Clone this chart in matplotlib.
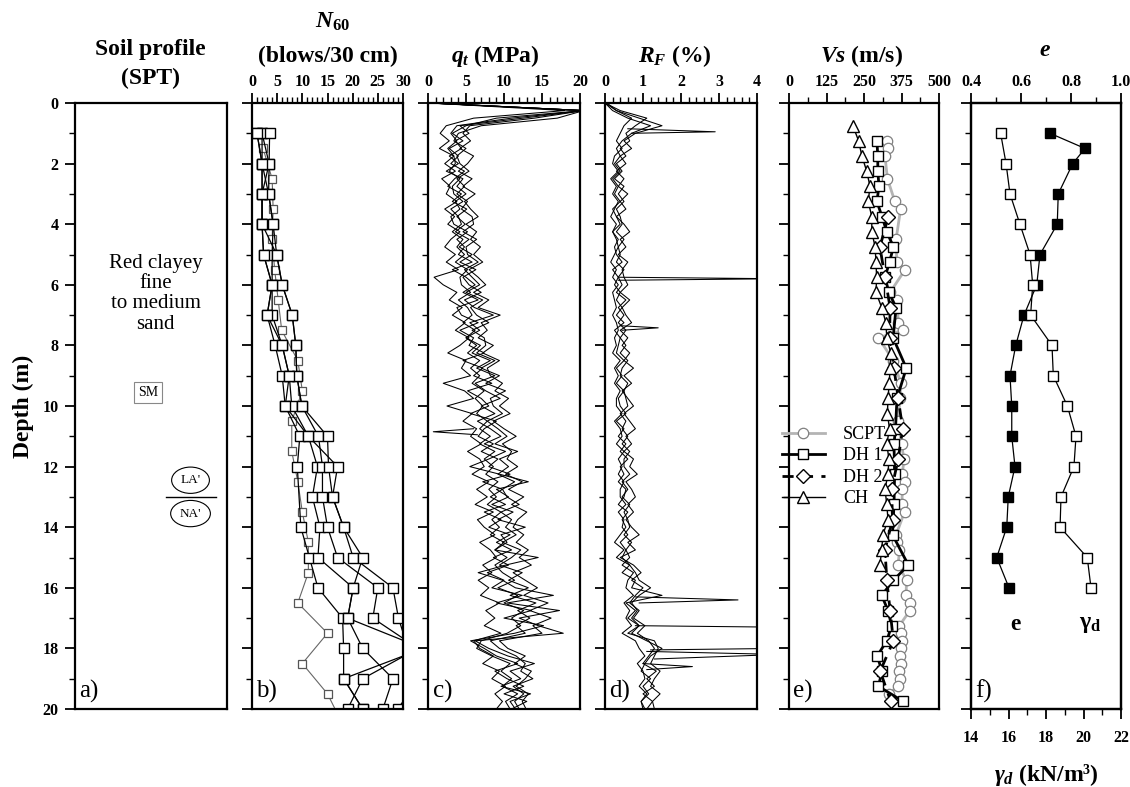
import numpy as np
import matplotlib
matplotlib.use('Agg')
import matplotlib.pyplot as plt
from matplotlib.ticker import MultipleLocator

plt.rcParams['font.family'] = 'Liberation Serif'
plt.rcParams['mathtext.fontset'] = 'custom'
plt.rcParams['mathtext.it'] = 'Liberation Serif:italic:bold'
plt.rcParams['mathtext.rm'] = 'Liberation Serif:bold'
plt.rcParams['mathtext.bf'] = 'Liberation Serif:bold'

# ---- b) SPT N60 ----
spt_depth = [1, 2, 3, 4, 5, 6, 7, 8, 9, 10, 11, 12, 13, 14, 15, 16, 17, 18, 19, 20]
spt_n60 = [
    [1.0, 2.0, 2.0, 2.0, 2.3, 4.0, 3.0, 4.6, 6.0, 6.6, 9.5, 9.0, np.nan, 9.7, 11.4, 13.1, 18.0, 18.2, 18.2, 22.0],
    [2.0, 2.0, 3.3, 4.2, 4.0, 4.0, 4.0, 6.0, 7.4, 7.9, 11.2, 13.0, 12.0, 13.5, 13.1, 20.1, 19.0, 22.0, 28.0, 26.0],
    [2.0, 3.4, 2.0, 2.0, 4.9, 6.0, 8.0, 8.7, 8.9, 9.9, 13.2, 14.0, 14.0, 15.0, 17.0, 25.0, 24.0, 33.0, 22.0, 19.0],
    [3.5, 3.4, 3.3, 4.2, 4.9, 6.0, 8.0, 8.7, 8.9, 9.9, 15.0, 15.2, 16.0, 18.2, 20.1, 28.0, 29.1, 31.0, 33.0, 29.0],
    [1.0, 2.0, 2.0, 2.0, 2.3, 4.0, 3.0, 6.0, 7.4, 6.6, 11.2, 17.0, 16.0, 18.2, 22.0, 20.1, 19.0, 34.0, 18.2, 22.0],
]
spt_grey_depth = [1.5, 2.5, 3.5, 4.5, 5.5, 6.5, 7.5, 8.5, 9.5, 10.5, 11.5, 12.5, 13.5, 14.5, 15.5, 16.5, 17.5, 18.5, 19.5, 20.5]
spt_grey_n60 = [2.2, 4.0, 4.2, 4.0, 4.5, 5.2, 5.9, 9.1, 10.0, 7.9, 7.9, 9.1, 10.0, 11.2, 11.2, 9.1, 15.0, 10.0, 15.0, 18.0]

# ---- c) CPT qt, d) RF  (read every 0.25 m) ----
cpt_depth = np.arange(81) * 0.25
qt = [
    [0.3, 20.5, 9.0, 5.0, 3.2, 4.6, 2.8, 4.0, 3.0, 4.8, 3.5, 2.6, 4.4, 3.2, 5.1, 3.8, 4.9, 3.6, 5.4, 4.1,
     5.8, 4.2, 6.3, 4.6, 5.4, 7.0, 4.8, 6.1, 8.6, 5.5, 6.8, 5.0, 6.9, 5.8, 8.2, 6.4, 8.8, 6.2, 7.6, 9.5,
     7.0, 8.8, 6.5, 8.2, 9.6, 7.4, 10.2, 8.0, 5.5, 9.4, 13.2, 9.0, 10.6, 8.4, 11.2, 9.2, 12.8, 9.6, 10.4, 8.8,
     14.5, 10.2, 6.6, 9.8, 11.5, 16.5, 10.4, 17.3, 12.0, 14.5, 17.8, 6.2, 8.0, 10.5, 14.0, 10.8, 12.2, 9.6, 13.5, 10.8, 11.5],
    [0.2, 18.0, 6.0, 2.4, 1.6, 2.8, 1.5, 3.4, 2.2, 3.6, 1.8, 2.9, 2.4, 3.8, 2.2, 3.5, 2.6, 4.2, 3.0, 2.2,
     3.6, 2.4, 4.0, 0.8, 2.0, 3.8, 2.8, 4.5, 3.2, 4.9, 3.6, 5.4, 4.2, 2.6, 5.0, 4.4, 5.6, 2.0, 4.8, 6.0,
     2.5, 5.8, 4.6, 6.4, 5.6, 7.0, 5.2, 6.8, 7.4, 5.8, 8.0, 6.4, 7.8, 6.2, 8.6, 6.5, 7.4, 8.8, 6.8, 8.2,
     9.0, 7.2, 8.4, 6.6, 8.0, 6.9, 9.4, 7.6, 8.8, 7.4, 9.6, 6.0, 6.8, 8.6, 7.2, 9.4, 8.4, 10.2, 8.8, 9.8, 9.0],
    [0.5, 20.5, 14.0, 5.5, 4.6, 5.6, 4.2, 6.0, 5.2, 4.0, 5.8, 4.6, 6.2, 4.8, 5.6, 6.6, 5.0, 6.4, 5.6, 6.9,
     6.0, 7.2, 5.4, 6.6, 7.6, 6.0, 8.0, 6.6, 9.5, 7.0, 7.8, 6.6, 8.6, 7.2, 9.4, 7.8, 8.2, 9.8, 8.8, 10.6,
     9.4, 10.8, 8.6, 10.0, 11.6, 9.8, 11.0, 10.4, 11.8, 10.2, 12.4, 10.6, 12.6, 11.0, 13.0, 11.8, 11.2, 12.6, 11.6, 13.2,
     12.0, 13.6, 11.2, 12.8, 14.4, 12.6, 15.8, 13.4, 16.2, 13.8, 15.0, 9.4, 10.5, 12.8, 11.4, 13.6, 12.8, 11.6, 13.2, 12.4, 12.9],
    [0.1, 20.5, 11.0, 3.8, 3.0, 3.8, 2.6, 3.4, 3.6, 2.8, 4.2, 3.2, 3.4, 4.6, 3.0, 4.0, 4.4, 3.2, 4.6, 3.8,
     4.8, 3.6, 5.2, 4.2, 4.4, 5.6, 4.0, 5.2, 5.8, 4.6, 6.2, 5.0, 6.4, 5.2, 6.8, 5.6, 6.8, 5.8, 7.4, 6.2,
     7.2, 6.4, 7.8, 6.8, 8.2, 6.8, 8.8, 7.4, 8.6, 7.6, 9.2, 8.0, 9.0, 7.8, 9.6, 8.4, 9.4, 8.2, 10.0, 8.8,
     10.4, 8.8, 9.8, 11.4, 9.2, 11.8, 10.0, 12.6, 11.0, 12.2, 10.4, 7.0, 6.4, 8.4, 10.8, 9.6, 11.0, 9.8, 11.8, 10.2, 10.8],
    [0.4, 20.5, 17.0, 7.0, 4.0, 3.4, 5.0, 3.8, 4.2, 5.4, 3.8, 4.8, 3.8, 5.2, 4.4, 5.8, 6.0, 4.6, 6.4, 5.0,
     5.2, 6.6, 4.8, 5.8, 6.8, 5.0, 7.2, 5.6, 6.4, 8.0, 5.8, 7.4, 7.6, 6.4, 8.8, 7.0, 9.4, 7.6, 10.2, 8.2,
     8.6, 9.8, 7.8, 9.2, 10.4, 8.8, 11.8, 9.4, 10.6, 9.2, 11.4, 9.8, 10.4, 12.0, 9.6, 11.0, 10.2, 11.6, 9.8, 12.2,
     11.0, 9.4, 12.4, 10.6, 13.2, 10.8, 14.2, 11.8, 13.4, 11.6, 12.8, 8.2, 9.4, 11.6, 12.8, 12.2, 13.8, 11.2, 12.6, 11.4, 12.0],
    [0.2, 20.5, 12.5, 4.2, 5.4, 3.6, 4.4, 2.8, 4.0, 2.4, 4.6, 3.8, 5.0, 3.6, 4.2, 3.0, 3.4, 5.2, 3.8, 4.8,
     4.0, 5.8, 3.2, 5.0, 6.2, 4.6, 6.6, 3.8, 4.4, 6.6, 4.2, 6.0, 5.4, 7.4, 4.6, 7.2, 6.0, 8.4, 5.2, 7.0,
     8.0, 5.6, 9.0, 7.4, 6.6, 8.6, 7.0, 9.2, 8.0, 10.8, 7.2, 9.8, 8.2, 10.2, 7.4, 9.6, 8.0, 10.8, 9.0, 11.0,
     8.6, 10.6, 7.8, 10.0, 8.4, 12.4, 9.0, 13.6, 10.0, 15.2, 11.4, 5.6, 7.4, 9.0, 11.8, 8.8, 10.4, 12.6, 10.0, 13.0, 11.0],
]
qt_spike_depth = [10.75, 10.85, 10.95]
qt_spike_val = [6.0, 0.7, 6.5]

rf = [
    [0.05, 0.3, 0.9, 1.5, 0.8, 0.5, 0.7, 0.4, 0.55, 0.3, 0.5, 0.35, 0.6, 0.4, 0.55, 0.3, 0.5, 0.65, 0.4, 0.55,
     0.35, 0.6, 0.45, 0.5, 0.6, 0.4, 0.65, 0.45, 0.55, 0.7, 0.4, 0.6, 0.45, 0.65, 0.5, 0.75, 0.5, 0.7, 0.45, 0.6,
     0.75, 0.5, 0.65, 0.8, 0.55, 0.7, 0.5, 0.75, 0.65, 0.85, 0.55, 0.7, 0.8, 0.6, 0.75, 0.55, 0.7, 0.9, 0.6, 0.8,
     0.4, 0.75, 0.95, 0.7, 1.0, 0.8, 0.65, 0.9, 0.75, 1.05, 0.85, 1.15, 1.3, 1.15, 1.0, 1.35, 1.1, 1.3, 1.0, 1.25, 1.1],
    [0.0, 0.2, 0.6, 1.2, 0.7, 0.45, 0.3, 0.4, 0.25, 0.4, 0.2, 0.35, 0.25, 0.4, 0.2, 0.3, 0.4, 0.2, 0.35, 0.25,
     0.3, 0.45, 0.2, 0.35, 0.25, 0.4, 0.3, 0.45, 0.3, 0.5, 0.25, 0.4, 0.35, 0.3, 0.5, 0.3, 0.45, 0.3, 0.5, 0.35,
     0.4, 0.55, 0.3, 0.5, 0.35, 0.55, 0.4, 0.6, 0.4, 0.5, 0.35, 0.55, 0.5, 0.35, 0.6, 0.45, 0.55, 0.4, 0.25, 0.5,
     0.3, 0.65, 0.45, 0.8, 0.7, 1.5, 0.55, 0.8, 0.6, 0.9, 0.7, 1.1, 1.5, 1.2, 1.05, 0.95, 1.2, 1.0, 1.15, 0.95, 1.05],
    [0.0, 0.4, 1.1, 0.8, 0.55, 0.65, 0.4, 0.55, 0.3, 0.45, 0.25, 0.5, 0.35, 0.5, 0.3, 0.4, 0.45, 0.3, 0.5, 0.35,
     0.4, 0.3, 0.5, 0.35, 0.45, 0.3, 0.55, 0.35, 0.5, 0.35, 0.55, 0.4, 0.55, 0.4, 0.6, 0.45, 0.4, 0.6, 0.5, 0.55,
     0.6, 0.4, 0.55, 0.45, 0.6, 0.45, 0.65, 0.5, 0.5, 0.65, 0.45, 0.6, 0.45, 0.65, 0.5, 0.6, 0.65, 0.5, 0.7, 0.55,
     0.45, 0.65, 0.8, 0.9, 1.2, 0.9, 0.7, 0.85, 0.7, 0.9, 0.6, 1.3, 1.4, 1.3, 1.2, 1.45, 1.3, 1.2, 1.45, 1.25, 1.3],
    [0.0, 0.3, 0.7, 0.5, 0.4, 0.3, 0.45, 0.25, 0.2, 0.35, 0.15, 0.3, 0.2, 0.35, 0.25, 0.15, 0.3, 0.2, 0.3, 0.35,
     0.25, 0.15, 0.3, 0.2, 0.35, 0.2, 0.25, 0.3, 0.2, 0.3, 0.35, 0.25, 0.3, 0.2, 0.4, 0.25, 0.35, 0.25, 0.4, 0.3,
     0.3, 0.45, 0.25, 0.4, 0.45, 0.3, 0.5, 0.35, 0.45, 0.35, 0.5, 0.4, 0.4, 0.55, 0.35, 0.5, 0.45, 0.6, 0.4, 0.55,
     0.65, 0.45, 0.75, 0.6, 0.55, 0.75, 0.5, 0.65, 0.55, 0.7, 0.45, 0.8, 0.9, 1.05, 0.85, 1.0, 1.05, 0.9, 1.1, 0.95, 1.0],
]
rf_spike_depth = [[0.85, 0.95, 1.0], [5.75, 5.8, 5.85], [7.35, 7.42, 7.5], [16.3, 16.4, 16.5],
                  [17.25, 17.3, 18.0, 18.05], [18.1, 18.2, 18.35], [18.5, 18.6, 18.7]]
rf_spike_val = [[0.6, 2.9, 0.7], [0.35, 4.6, 0.35], [0.4, 1.4, 0.45], [0.8, 3.5, 0.9],
                [0.8, 4.6, 4.6, 1.2], [1.1, 4.6, 1.3], [1.0, 2.3, 1.1]]

# ---- e) Vs ----
scpt_depth = [1.25, 1.5, 1.75, 2.5, 3.25, 3.5, 4.5, 5.25, 5.5, 6.25, 6.5, 7.25, 7.5, 7.75, 8.5, 9.25, 9.75,
              10.5, 11.25, 11.75, 12.25, 12.5, 12.75, 13.25, 13.5, 14.25, 14.5, 14.75, 15.25, 15.75, 16.25,
              16.5, 16.75, 17.25, 17.5, 17.75, 18.0, 18.25, 18.5, 18.75, 19.0, 19.25, 19.5]
scpt_vs = [326, 331, 320, 328, 353, 372, 357, 359, 387, 337, 361, 364, 379, 298, 348, 373, 370,
           364, 375, 383, 378, 385, 378, 376, 385, 357, 360, 368, 364, 392, 390,
           403, 403, 368, 373, 375, 372, 370, 373, 368, 370, 362, 333]
dh1_depth = [1.25, 1.75, 2.25, 2.75, 3.25, 3.75, 4.25, 4.75, 5.25, 5.75, 6.25, 6.75, 7.75, 8.75, 9.75,
             10.75, 11.25, 12.25, 13.25, 14.25, 15.25, 15.75, 16.25, 16.75, 17.25, 17.75, 18.25, 18.75, 19.25, 19.75]
dh1_vs = [293, 296, 296, 300, 293, 310, 326, 348, 335, 320, 333, 357, 347, 391, 360,
          355, 350, 352, 350, 345, 398, 348, 309, 330, 342, 326, 294, 310, 298, 381]
dh2_depth = [3.75, 4.75, 5.75, 6.75, 7.75, 8.75, 9.75, 10.75, 11.75, 12.75, 13.75, 14.75, 15.75, 16.75,
             17.75, 18.75, 19.75]
dh2_vs = [331, 303, 320, 337, 335, 350, 364, 379, 364, 342, 345, 320, 326, 337, 348, 304, 339]
ch_depth = [0.75, 1.25, 1.75, 2.25, 2.75, 3.25, 3.75, 4.25, 4.75, 5.25, 5.75, 6.25, 6.75, 7.25, 7.75,
            8.25, 8.75, 9.25, 9.75, 10.25, 10.75, 11.25, 11.75, 12.25, 12.75, 13.25, 13.75, 14.25, 14.75, 15.25]
ch_vs = [213, 232, 243, 259, 270, 264, 276, 276, 287, 290, 292, 290, 309, 323, 326,
         339, 337, 334, 330, 328, 335, 326, 333, 330, 320, 326, 330, 313, 309, 303]

# ---- f) void ratio / dry unit weight ----
e_depth = [1.0, 1.5, 2.0, 3, 4, 5, 6, 7, 8, 9, 10, 11, 12, 13, 14, 15, 16]
e_vals = [0.716, 0.856, 0.807, 0.749, 0.745, 0.676, 0.663, 0.612, 0.579, 0.556, 0.563, 0.563, 0.576,
          0.549, 0.543, 0.503, 0.552]
gd_depth = [1, 2, 3, 4, 5, 6, 7, 8, 9, 10, 11, 12, 13, 14, 15, 16]
gd_vals = [15.58, 15.87, 16.08, 16.61, 17.15, 17.29, 17.18, 18.32, 18.39, 19.14, 19.6, 19.49, 18.8,
           18.75, 20.2, 20.4]

W, H = 1130, 787
fig = plt.figure(figsize=(W / 100, H / 100), dpi=100)


def px_axes(x0, x1, y0=103, y1=709):
    return fig.add_axes([x0 / W, 1 - y1 / H, (x1 - x0) / W, (y1 - y0) / H])


def style(ax, xlim, major, minor):
    ax.set_ylim(20, 0)
    ax.set_xlim(*xlim)
    ax.xaxis.tick_top()
    ax.xaxis.set_major_locator(MultipleLocator(major))
    ax.xaxis.set_minor_locator(MultipleLocator(minor))
    ax.yaxis.set_major_locator(MultipleLocator(2))
    ax.yaxis.set_minor_locator(MultipleLocator(1))
    ax.tick_params(which='major', direction='out', length=7, width=1.3, labelsize=11.5, pad=2)
    ax.tick_params(which='minor', direction='out', length=4, width=1)
    ax.tick_params(axis='y', labelleft=False)
    for s in ax.spines.values():
        s.set_linewidth(1.6)
    for lab in ax.get_xticklabels():
        lab.set_fontweight('bold')


def letter(ax, s):
    ax.text(0.03, 0.01, s, transform=ax.transAxes, fontsize=18, ha='left', va='bottom')


# a) soil profile
ax_a = px_axes(75, 227)
ax_a.set_xlim(0, 1)
ax_a.set_ylim(20, 0)
ax_a.set_xticks([])
ax_a.yaxis.set_major_locator(MultipleLocator(2))
ax_a.yaxis.set_minor_locator(MultipleLocator(1))
ax_a.tick_params(axis='y', which='major', direction='out', length=7, width=1.3, labelsize=11.5, pad=5)
ax_a.tick_params(axis='y', which='minor', direction='out', length=4, width=1)
for lab in ax_a.get_yticklabels():
    lab.set_fontweight('bold')
for s in ax_a.spines.values():
    s.set_linewidth(1.6)
ax_a.set_ylabel('Depth (m)', fontsize=17, fontweight='bold', labelpad=6)
ax_a.text(0.53, 6.3, 'Red clayey\nfine\nto medium\nsand', ha='center', va='center', fontsize=15,
          linespacing=1.08)
ax_a.text(0.48, 9.55, 'SM', ha='center', va='center', fontsize=10,
          bbox=dict(boxstyle='square,pad=0.3', fc='white', ec='#888888', lw=0.8))
ax_a.text(0.76, 12.45, "LA'", ha='center', va='center', fontsize=9.5,
          bbox=dict(boxstyle='ellipse,pad=0.25', fc='white', ec='black', lw=0.8))
ax_a.text(0.76, 13.55, "NA'", ha='center', va='center', fontsize=9.5,
          bbox=dict(boxstyle='ellipse,pad=0.25', fc='white', ec='black', lw=0.8))
ax_a.plot([0.6, 0.93], [13.0, 13.0], color='black', lw=1)
letter(ax_a, 'a)')

# b) N60
ax_b = px_axes(252, 403)
style(ax_b, (0, 30), 5, 1)
ax_b.plot(spt_grey_n60, spt_grey_depth, color='#666666', lw=0.8, marker='s', ms=6,
          mfc='white', mec='#555555', mew=0.9)
for prof in spt_n60:
    v = np.array(prof)
    ok = ~np.isnan(v)
    ax_b.plot(v[ok], np.array(spt_depth)[ok], color='black', lw=0.9, marker='s', ms=7,
              mfc='white', mec='black', mew=1.0)
letter(ax_b, 'b)')

# c) qt
ax_c = px_axes(428, 580)
style(ax_c, (0, 20), 5, 1)
for tr in qt:
    ax_c.plot(tr, cpt_depth, color='black', lw=0.75)
ax_c.plot(qt_spike_val, qt_spike_depth, color='black', lw=0.75)
letter(ax_c, 'c)')

# d) RF
ax_d = px_axes(605, 757)
style(ax_d, (0, 4), 1, 0.2)
for tr in rf:
    ax_d.plot(tr, cpt_depth, color='black', lw=0.75)
for dd, vv in zip(rf_spike_depth, rf_spike_val):
    ax_d.plot(vv, dd, color='black', lw=0.75)
letter(ax_d, 'd)')

# e) Vs
ax_e = px_axes(789, 939)
style(ax_e, (0, 500), 125, 62.5)
h1, = ax_e.plot(scpt_vs, scpt_depth, color='#b4b4b4', lw=2, marker='o', ms=7.5, mfc='white',
                mec='#808080', mew=0.9)
h2, = ax_e.plot(dh1_vs, dh1_depth, color='black', lw=2, marker='s', ms=7.5, mfc='white',
                mec='black', mew=1.0)
h3, = ax_e.plot(dh2_vs, dh2_depth, color='black', lw=2, ls=(0, (4, 3)), marker='D', ms=7,
                mfc='white', mec='black', mew=1.0)
h4, = ax_e.plot(ch_vs, ch_depth, color='black', lw=1, marker='^', ms=8.5, mfc='white',
                mec='black', mew=1.0)
ax_e.legend([h1, h2, h3, h4], ['SCPT', 'DH 1', 'DH 2', 'CH'], loc='center left',
            bbox_to_anchor=(-0.11, 0.40), frameon=False, fontsize=13, handlelength=2.4,
            handletextpad=1.0, labelspacing=0.25, borderpad=0)
letter(ax_e, 'e)')

# f) e and gamma_d
ax_f = px_axes(971, 1121)
ax_g = ax_f.twiny()
style(ax_f, (0.4, 1.0), 0.2, 0.1)
ax_f.plot(e_vals, e_depth, color='black', lw=0.9, marker='s', ms=7.5, mfc='black', mec='black')
ax_g.set_xlim(14, 22)
ax_g.xaxis.tick_bottom()
ax_g.xaxis.set_label_position('bottom')
ax_g.xaxis.set_major_locator(MultipleLocator(2))
ax_g.xaxis.set_minor_locator(MultipleLocator(1))
ax_g.tick_params(which='major', direction='out', length=7, width=1.3, labelsize=11.5, pad=8)
ax_g.tick_params(which='minor', direction='out', length=4, width=1)
for lab in ax_g.get_xticklabels():
    lab.set_fontweight('bold')
for s in ax_g.spines.values():
    s.set_linewidth(1.6)
ax_g.plot(gd_vals, gd_depth, color='black', lw=0.9, marker='s', ms=7.5, mfc='white', mec='black', mew=1.0)
ax_g.set_xlabel(r'$\gamma_d$ (kN/m³)', fontsize=17, fontweight='bold', labelpad=12)
ax_f.text(0.578, 17.2, 'e', fontsize=17, fontweight='bold', ha='center', va='center')
ax_f.text(0.878, 17.2, r'$\mathrm{\gamma_d}$', fontsize=17, ha='center', va='center')
letter(ax_f, 'f)')


# column titles
def ftext(x, y, s):
    fig.text(x / W, 1 - y / H, s, ha='center', va='center', fontsize=17, fontweight='bold')


ftext(150, 50, 'Soil profile')
ftext(150, 78, '(SPT)')
ftext(333, 22, r'$N_{60}$')
ftext(328, 56, '(blows/30 cm)')
ftext(495, 56, r'$q_t$ (MPa)')
ftext(675, 56, r'$R_F$ (%)')
ftext(862, 56, r'$Vs$ (m/s)')
ftext(1045, 50, r'$e$')

fig.savefig('out.png', dpi=100)
